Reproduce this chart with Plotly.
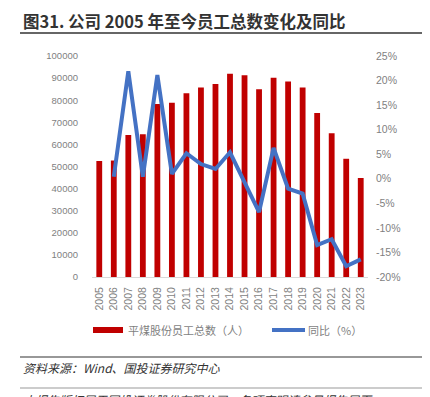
import plotly.graph_objects as go

years = [str(y) for y in range(2005, 2024)]
employees = [52500, 52700, 64300, 64600, 78300, 78900, 83100, 85700, 87300, 92000,
             91300, 84900, 90200, 88500, 85700, 74200, 65000, 53500, 44800]
yoy = [None, 0.4, 21.9, 0.4, 21.1, 1.0, 5.2, 3.0, 2.0, 5.4,
       -0.6, -6.8, 6.3, -2.0, -3.0, -13.5, -12.3, -17.8, -16.4]
left_ticks = list(range(0, 100001, 10000))
right_ticks = list(range(-20, 26, 5))

title_text = "图31. 公司 2005 年至今员工总数变化及同比"
bar_name = "平煤股份员工总数（人）"
line_name = "同比（%）"
source_text = "资料来源：Wind、国投证券研究中心"
footer_text = "本报告版权属于国投证券股份有限公司，各项声明请参见报告尾页。"

RED = "#C00000"
BLUE = "#4472C4"
TICK = "#7F7F7F"
CJK = "Noto Sans CJK SC"
LAT = "Liberation Sans, Arial"

# page body has an 8px margin: figure is sized so it fills the window exactly
fig = go.Figure()
fig.add_trace(go.Bar(x=years, y=employees, marker_color=RED, name=bar_name,
                     marker_line_width=0, yaxis="y"))
fig.add_trace(go.Scatter(x=years, y=yoy, mode="lines", line=dict(color=BLUE, width=4),
                         name=line_name, yaxis="y2"))

fig.update_layout(
    width=422, height=389,
    margin=dict(l=84, r=62, t=48, b=120, autoexpand=False),
    paper_bgcolor="white", plot_bgcolor="white",
    showlegend=False,
    bargap=0.6,
    xaxis=dict(type="category", tickangle=-90, showgrid=False, ticks="",
               showline=True, linecolor="#D9D9D9", linewidth=1, ticklabelstandoff=5,
               tickfont=dict(family=LAT, size=10.5, color=TICK)),
    yaxis=dict(range=[0, 100000], tickvals=left_ticks, ticktext=[str(v) for v in left_ticks],
               showgrid=False, zeroline=False, ticks="", ticklabelstandoff=13,
               tickfont=dict(family=LAT, size=9.5, color=TICK)),
    yaxis2=dict(range=[-20, 25], overlaying="y", side="right", tickvals=right_ticks,
                ticktext=[f"{v}%" for v in right_ticks],
                showgrid=False, zeroline=False, ticks="", ticklabelstandoff=7,
                tickfont=dict(family=LAT, size=10.5, color=TICK)),
)

def px(xp):
    return (xp - 92) / 276
def py(yp):
    return (277 - yp) / 221

fig.add_annotation(text="<b>" + title_text + "</b>", xref="paper", yref="paper",
                   x=px(21), y=py(21), xanchor="left", yanchor="middle",
                   showarrow=False, font=dict(family=CJK, size=16.5, color="#333333"))
shapes = []
def hline(ypx, color, w):
    shapes.append(dict(type="line", xref="paper", yref="paper",
                       x0=px(20), x1=px(432), y0=py(ypx), y1=py(ypx),
                       line=dict(color=color, width=w)))
hline(33, "#333333", 1.5)
hline(357, "#333333", 1.2)
hline(388, "#999999", 1)

# legend drawn by hand to get the wide swatches
shapes.append(dict(type="rect", xref="paper", yref="paper", x0=px(93), x1=px(123),
                   y0=py(333), y1=py(327), fillcolor=RED, line=dict(width=0)))
shapes.append(dict(type="line", xref="paper", yref="paper", x0=px(272), x1=px(305),
                   y0=py(330), y1=py(330), line=dict(color=BLUE, width=4)))
fig.add_annotation(text=bar_name, xref="paper", yref="paper", x=px(126), y=py(330),
                   xanchor="left", yanchor="middle", showarrow=False,
                   font=dict(family=CJK, size=11, color=TICK))
fig.add_annotation(text=line_name, xref="paper", yref="paper", x=px(306), y=py(330),
                   xanchor="left", yanchor="middle", showarrow=False,
                   font=dict(family=CJK, size=11, color=TICK))

fig.add_annotation(text="<i>" + source_text + "</i>", xref="paper", yref="paper",
                   x=px(21), y=py(367), xanchor="left", yanchor="middle", showarrow=False,
                   font=dict(family=CJK, size=12, color="#333333"))
fig.add_annotation(text="<i>" + footer_text + "</i>", xref="paper", yref="paper",
                   x=px(21), y=py(399), xanchor="left", yanchor="middle", showarrow=False,
                   font=dict(family=CJK, size=12, color="#333333"))

fig.update_layout(shapes=shapes)
fig.write_html("out.html")
